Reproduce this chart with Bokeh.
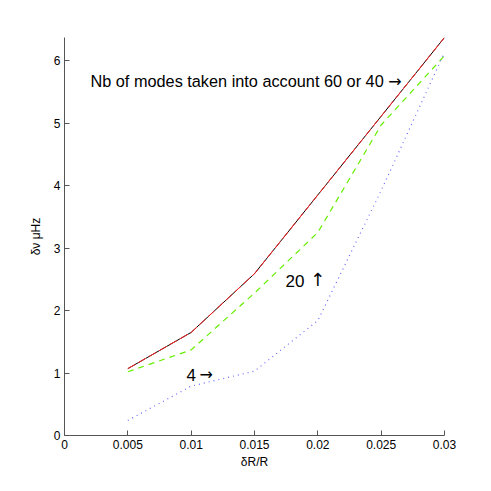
from bokeh.plotting import figure
from bokeh.models import FixedTicker, Range1d, Label
from bokeh.embed import file_html
from bokeh.resources import INLINE

dr = [0.005, 0.01, 0.015, 0.02, 0.025, 0.03]
nu_60 = [1.07, 1.65, 2.59, 3.85, 5.11, 6.37]
nu_40 = [1.07, 1.65, 2.59, 3.85, 5.11, 6.37]
nu_20 = [1.02, 1.37, 2.28, 3.25, 4.97, 6.08]
nu_4 = [0.24, 0.79, 1.03, 1.84, 3.92, 6.13]

x_ticks = [0, 0.005, 0.01, 0.015, 0.02, 0.025, 0.03]
x_tick_labels = ["0", "0.005", "0.01", "0.015", "0.02", "0.025", "0.03"]
y_ticks = [0, 1, 2, 3, 4, 5, 6]

FONT = "Liberation Sans"
ARROW_FONT = "DejaVu Sans"

p = figure(width=475, height=475, output_backend="svg", toolbar_location=None,
           x_range=Range1d(0, 0.03), y_range=Range1d(0, 6.37),
           min_border_left=64, min_border_right=31, min_border_top=37, min_border_bottom=40)
p.outline_line_color = None
p.xgrid.visible = False
p.ygrid.visible = False

p.line(dr, nu_40, line_color="black", line_width=1)
p.line(dr, nu_60, line_color="#ff2020", line_width=1, line_dash="9 3")
p.line(dr, nu_20, line_color="#66ee00", line_width=1.2, line_dash="6 5")
p.line(dr, nu_4, line_color="#6a6aff", line_width=1.2, line_dash="1 4")

p.xaxis.ticker = FixedTicker(ticks=x_ticks)
p.xaxis.major_label_overrides = {t: l for t, l in zip(x_ticks, x_tick_labels)}
p.yaxis.ticker = FixedTicker(ticks=y_ticks)

for ax in (p.xaxis, p.yaxis):
    ax.major_tick_in = 5
    ax.major_tick_out = 0
    ax.minor_tick_line_color = None
    ax.axis_line_color = "#555555"
    ax.major_tick_line_color = "#555555"
    ax.major_label_text_font = FONT
    ax.major_label_text_font_size = "12px"
    ax.major_label_text_color = "black"
    ax.axis_label_text_font = FONT
    ax.axis_label_text_font_size = "12px"
    ax.axis_label_text_font_style = "normal"
    ax.axis_label_text_color = "black"
    ax.major_label_standoff = 4

p.xaxis.axis_label = "δR/R"
p.yaxis.axis_label = "δν μHz"
p.xaxis.axis_label_standoff = 3
p.yaxis.axis_label_standoff = 8


def note(x, y, text, font=FONT, size="17px"):
    p.add_layout(Label(x=x, y=y, text=text, text_font=font, text_font_size=size,
                       text_baseline="middle", text_color="black"))


note(0.00205, 5.67, "Nb of modes taken into account 60 or 40", size="16.3px")
note(0.02555, 5.67, "→", font=ARROW_FONT, size="16px")
note(0.01745, 2.48, "20")
note(0.0194, 2.50, "↑", font=ARROW_FONT, size="18px")
note(0.00963, 0.97, "4")
note(0.01065, 0.97, "→", font=ARROW_FONT, size="16px")

open("out.html", "w").write(file_html(p, INLINE))
